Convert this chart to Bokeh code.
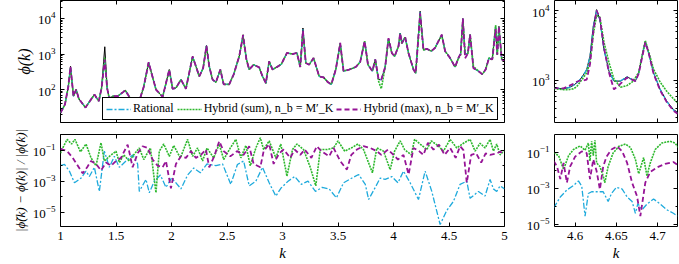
from bokeh.plotting import figure
from bokeh.layouts import column, row
from bokeh.models import FixedTicker, LinearAxis, LogAxis, Legend, LegendItem, Range1d
from bokeh.embed import file_html
from bokeh.resources import INLINE

# ---------------- data: top-left (phi(k) over the full k range) ----------------
k_main = [1.00, 1.04, 1.07, 1.09, 1.117, 1.141, 1.165, 1.225, 1.27, 1.306,
          1.345, 1.37, 1.399, 1.42, 1.44, 1.47, 1.516, 1.584, 1.635, 1.70,
          1.75, 1.794, 1.86, 1.92, 1.98, 2.01, 2.04, 2.085, 2.13, 2.19,
          2.22, 2.25, 2.285, 2.315, 2.34, 2.37, 2.40, 2.44, 2.47, 2.52,
          2.56, 2.61, 2.645, 2.675, 2.70, 2.74, 2.79, 2.82, 2.85, 2.88,
          2.91, 2.95, 2.99, 3.04, 3.09, 3.13, 3.16, 3.184, 3.21, 3.24,
          3.28, 3.33, 3.37, 3.41, 3.44, 3.48, 3.52, 3.55, 3.60, 3.66,
          3.70, 3.74, 3.77, 3.81, 3.836, 3.866, 3.89, 3.925, 3.955, 3.985,
          4.01, 4.045, 4.06, 4.075, 4.105, 4.135, 4.18, 4.20, 4.24, 4.27,
          4.30, 4.34, 4.375, 4.405, 4.435, 4.465, 4.51, 4.555, 4.585, 4.605,
          4.625, 4.645, 4.67, 4.69, 4.72, 4.765, 4.80, 4.83, 4.86, 4.89,
          4.92, 4.935, 4.95, 4.975, 5.00]
phi_exact = [22, 38, 120, 450, 65, 100, 55, 31, 50, 72,
             47, 110, 1600, 110, 55, 65, 65, 95, 52, 38,
             120, 585, 100, 62, 365, 105, 110, 190, 105, 860,
             450, 235, 400, 1730, 450, 190, 160, 365, 140, 140,
             265, 860, 3500, 700, 365, 500, 420, 235, 150, 620,
             365, 430, 520, 1070, 1000, 1070, 430, 5400, 560, 500,
             770, 235, 220, 160, 140, 365, 2050, 330, 365, 430,
             600, 2300, 500, 330, 700, 190, 190, 430, 2800, 1070,
             860, 1650, 3900, 2000, 3000, 1070, 365, 290, 16000, 1300,
             1400, 1200, 1500, 2300, 3500, 1200, 770, 430, 780, 1030,
             10000, 1000, 1030, 3500, 400, 330, 270, 365, 770, 700,
             6000, 950, 6000, 700, 650]
phi_rat = [22, 38, 120, 430, 65, 100, 55, 31, 50, 72,
           47, 110, 650, 110, 55, 65, 65, 95, 52, 38,
           120, 580, 100, 62, 360, 105, 110, 190, 105, 850,
           450, 235, 400, 1700, 450, 190, 160, 365, 140, 140,
           265, 860, 3300, 700, 365, 500, 420, 235, 150, 620,
           365, 430, 520, 1070, 1000, 1070, 430, 5000, 560, 500,
           770, 235, 220, 160, 140, 365, 2000, 330, 365, 430,
           600, 2250, 500, 330, 700, 190, 190, 430, 2700, 1070,
           860, 1650, 3800, 2000, 3000, 1070, 365, 290, 15000, 1300,
           1400, 1200, 1500, 2300, 3400, 1200, 770, 430, 780, 1030,
           9800, 1000, 1030, 3500, 400, 330, 270, 365, 770, 700,
           5800, 950, 5800, 700, 650]
phi_sum = [22, 38, 115, 400, 65, 100, 55, 31, 50, 72,
           47, 110, 800, 110, 55, 65, 65, 95, 52, 38,
           120, 560, 100, 62, 350, 105, 110, 190, 105, 820,
           450, 235, 400, 1650, 450, 190, 160, 365, 140, 140,
           265, 860, 3000, 700, 365, 500, 420, 235, 150, 620,
           365, 430, 520, 1070, 1000, 1070, 430, 4200, 560, 500,
           770, 235, 220, 160, 140, 365, 1900, 330, 365, 430,
           600, 2300, 500, 330, 700, 170, 105, 430, 2600, 1070,
           860, 1650, 3700, 2000, 3000, 1070, 365, 290, 13000, 1300,
           1400, 1200, 1500, 2300, 3300, 1200, 770, 430, 740, 950,
           8500, 1050, 1030, 3600, 450, 330, 270, 365, 770, 700,
           6500, 950, 5600, 700, 650]
phi_max = [22, 38, 120, 440, 65, 100, 55, 31, 50, 72,
           47, 110, 700, 110, 55, 65, 65, 95, 52, 38,
           120, 585, 100, 62, 365, 105, 110, 190, 105, 860,
           450, 235, 400, 1700, 450, 190, 160, 365, 140, 140,
           265, 860, 3400, 700, 365, 500, 420, 235, 150, 620,
           365, 430, 520, 1070, 1000, 1070, 430, 4500, 560, 500,
           770, 235, 220, 160, 140, 365, 2050, 330, 365, 430,
           600, 2300, 500, 330, 700, 190, 190, 430, 2800, 1070,
           860, 1650, 3900, 2000, 3000, 1070, 365, 290, 14000, 1300,
           1400, 1200, 1500, 2300, 3500, 1200, 770, 430, 790, 1000,
           10000, 760, 1030, 3500, 400, 330, 270, 365, 770, 700,
           5000, 950, 6000, 700, 650]

# ---------------- data: top-right (zoom around k = 4.65) ----------------
k_zoom = [4.574, 4.580, 4.586, 4.592, 4.598, 4.602, 4.606, 4.610, 4.614, 4.618,
          4.622, 4.626, 4.630, 4.635, 4.641, 4.647, 4.655, 4.663, 4.669, 4.673,
          4.677, 4.681, 4.685, 4.689, 4.695, 4.703, 4.711, 4.719, 4.725]
zoom_exact = [790, 770, 760, 790, 850, 930, 1030, 1200, 1430, 2220,
              5970, 10300, 7400, 2770, 1360, 980, 980, 1130, 1030, 980,
              1290, 2220, 3640, 2490, 1290, 745, 506, 385, 345]
zoom_rat = [790, 770, 760, 790, 850, 930, 1030, 1200, 1430, 2200,
            5800, 10000, 7300, 2750, 1350, 980, 990, 1120, 1030, 990,
            1280, 2200, 3600, 2480, 1290, 745, 500, 380, 335]
zoom_sum = [770, 750, 740, 740, 760, 820, 950, 1100, 1290, 1800,
            4500, 8500, 8000, 3500, 1800, 1050, 800, 850, 950, 1100,
            1300, 2220, 3700, 2600, 1450, 950, 700, 550, 470]
zoom_max = [790, 770, 770, 830, 900, 960, 1000, 1000, 1030, 1700,
            5000, 10000, 7800, 2900, 1300, 745, 900, 1100, 1030, 980,
            1250, 2100, 3500, 2500, 1250, 720, 490, 370, 330]

# ---------------- data: bottom-left (relative error), (k, error) pairs ----------------
err_rat_pts = [(1.00, 1.0e-2), (1.036, 1.2e-2), (1.08, 4.5e-3), (1.126, 7.9e-4), (1.186, 1.6e-3),
               (1.23, 4.5e-3), (1.26, 2.0e-3), (1.305, 7.9e-3), (1.35, 2.2e-4), (1.395, 8.7e-2),
               (1.44, 7.9e-3), (1.485, 4.0e-2), (1.53, 7.9e-3), (1.59, 2.0e-2), (1.65, 5.0e-2),
               (1.695, 1.3e-2), (1.71, 2.2e-4), (1.77, 1.3e-3), (1.80, 1.8e-4), (1.845, 1.0e-3),
               (1.90, 2.5e-3), (1.95, 4.0e-4), (2.00, 1.6e-3), (2.04, 7.9e-4), (2.085, 3.2e-4),
               (2.145, 2.5e-3), (2.20, 7.1e-3), (2.26, 3.5e-3), (2.32, 1.3e-2), (2.40, 1.0e-2),
               (2.46, 1.3e-2), (2.534, 6.3e-4), (2.594, 1.2e-2), (2.65, 2.0e-2), (2.70, 5.0e-4),
               (2.76, 1.0e-3), (2.82, 7.9e-3), (2.88, 7.9e-4), (2.94, 1.1e-4), (2.985, 3.5e-4),
               (3.05, 1.0e-3), (3.11, 2.0e-3), (3.17, 6.3e-4), (3.23, 1.0e-3), (3.297, 2.2e-4),
               (3.357, 4.0e-4), (3.42, 3.2e-4), (3.486, 8.5e-5), (3.55, 7.9e-4), (3.626, 1.6e-3),
               (3.686, 2.7e-3), (3.746, 6.3e-4), (3.776, 6.6e-5), (3.836, 4.0e-4), (3.88, 1.6e-3),
               (3.925, 1.3e-3), (3.985, 2.0e-3), (4.04, 7.9e-4), (4.09, 4.5e-3), (4.15, 7.9e-4),
               (4.225, 6.6e-5), (4.285, 4.5e-3), (4.345, 2.2e-4), (4.42, 1.6e-6), (4.48, 1.3e-5),
               (4.54, 5.0e-5), (4.60, 6.3e-4), (4.66, 1.0e-3), (4.69, 7.9e-5), (4.765, 2.2e-4),
               (4.825, 1.1e-4), (4.87, 1.3e-3), (4.90, 3.2e-4), (4.93, 2.2e-4), (4.96, 5.0e-4),
               (5.00, 3.2e-4)]
err_sum_pts = [(1.00, 6.3e-2), (1.02, 0.14), (1.06, 0.50), (1.10, 0.25), (1.13, 0.50),
               (1.18, 7.9e-2), (1.23, 0.25), (1.275, 3.2e-2), (1.32, 1.0e-2), (1.365, 0.30),
               (1.395, 2.0e-2), (1.44, 4.0e-2), (1.50, 8.7e-2), (1.53, 1.6e-2), (1.57, 5.0e-2),
               (1.62, 2.0e-2), (1.66, 5.0e-2), (1.71, 0.14), (1.75, 2.5e-2), (1.81, 0.14),
               (1.86, 1.8e-4), (1.89, 8.7e-2), (1.93, 0.25), (1.98, 4.0e-2), (2.02, 0.20),
               (2.08, 3.2e-2), (2.145, 0.50), (2.19, 4.0e-2), (2.235, 0.14), (2.28, 2.0e-2),
               (2.32, 0.14), (2.38, 3.2e-2), (2.43, 0.25), (2.47, 2.5e-2), (2.53, 0.14),
               (2.58, 0.50), (2.625, 3.2e-2), (2.67, 0.20), (2.71, 1.0e-2), (2.76, 0.14),
               (2.80, 0.63), (2.83, 0.11), (2.88, 0.40), (2.94, 3.2e-2), (2.985, 0.25),
               (3.04, 2.1e-3), (3.09, 0.11), (3.13, 0.25), (3.19, 0.11), (3.25, 7.9e-3),
               (3.30, 5.0e-4), (3.34, 0.11), (3.40, 0.11), (3.46, 0.14), (3.50, 0.40),
               (3.56, 8.7e-2), (3.62, 0.14), (3.68, 0.25), (3.73, 0.11), (3.81, 3.5e-3),
               (3.85, 0.14), (3.91, 8.7e-2), (3.97, 5.6e-3), (4.01, 8.7e-2), (4.06, 0.40),
               (4.10, 0.11), (4.16, 5.0e-2), (4.19, 0.50), (4.24, 0.25), (4.30, 0.11),
               (4.34, 0.40), (4.40, 0.20), (4.45, 8.7e-2), (4.51, 0.50), (4.57, 0.14),
               (4.63, 0.28), (4.69, 0.50), (4.735, 8.7e-2), (4.78, 0.28), (4.825, 0.14),
               (4.87, 0.50), (4.90, 8.7e-2), (4.93, 0.25), (4.96, 5.0e-2), (5.00, 0.10)]
err_max_pts = [(1.00, 0.126), (1.02, 0.11), (1.06, 8.7e-2), (1.11, 3.2e-2), (1.156, 1.0e-2),
               (1.20, 3.2e-3), (1.24, 7.9e-3), (1.275, 2.0e-2), (1.32, 1.3e-2), (1.365, 5.0e-3),
               (1.41, 1.6e-2), (1.455, 1.0e-2), (1.50, 2.0e-2), (1.545, 3.2e-2), (1.605, 0.23),
               (1.65, 7.9e-3), (1.695, 6.3e-2), (1.74, 0.18), (1.785, 0.14), (1.83, 2.5e-2),
               (1.875, 1.0e-2), (1.92, 7.9e-3), (1.95, 2.0e-2), (1.995, 3.5e-4), (2.04, 1.3e-2),
               (2.085, 4.0e-2), (2.13, 3.2e-2), (2.175, 8.7e-2), (2.22, 3.2e-2), (2.265, 5.0e-2),
               (2.31, 0.11), (2.34, 7.9e-3), (2.385, 4.0e-2), (2.43, 0.38), (2.47, 8.7e-2),
               (2.53, 4.0e-2), (2.59, 8.7e-2), (2.65, 5.0e-2), (2.70, 0.18), (2.74, 1.3e-2),
               (2.80, 7.9e-3), (2.83, 8.7e-2), (2.88, 0.25), (2.92, 1.3e-2), (2.97, 6.3e-2),
               (3.01, 0.11), (3.07, 3.2e-2), (3.11, 0.11), (3.16, 5.0e-2), (3.20, 0.11),
               (3.26, 3.2e-2), (3.31, 0.18), (3.35, 8.7e-2), (3.42, 4.0e-2), (3.46, 0.14),
               (3.52, 2.0e-2), (3.58, 5.6e-3), (3.62, 5.0e-2), (3.67, 0.11), (3.73, 0.18),
               (3.79, 0.14), (3.85, 8.7e-2), (3.89, 5.0e-2), (3.95, 0.11), (4.00, 5.0e-2),
               (4.04, 2.5e-2), (4.09, 5.0e-2), (4.136, 2.7e-3), (4.18, 0.14), (4.23, 8.7e-2),
               (4.27, 5.0e-2), (4.31, 0.30), (4.36, 0.11), (4.41, 0.23), (4.46, 5.0e-2),
               (4.51, 0.14), (4.56, 3.2e-2), (4.60, 0.18), (4.63, 0.10), (4.66, 7.9e-4),
               (4.70, 5.0e-2), (4.745, 6.3e-2), (4.79, 1.6e-2), (4.83, 6.3e-2), (4.87, 5.0e-2),
               (4.93, 6.3e-2), (4.96, 7.9e-2), (5.00, 6.3e-2)]

# ---------------- data: bottom-right (relative error, zoom) ----------------
zerr_rat_pts = [(4.574, 7.9e-5), (4.582, 3.2e-4), (4.590, 7.9e-4), (4.598, 1.4e-3), (4.604, 2.5e-3),
                (4.608, 1.3e-3), (4.612, 2.8e-5), (4.616, 5.0e-4), (4.620, 6.3e-4), (4.626, 6.3e-4),
                (4.634, 6.3e-4), (4.640, 1.8e-4), (4.644, 5.0e-4), (4.650, 1.1e-3), (4.657, 8.9e-4),
                (4.663, 3.2e-4), (4.669, 1.8e-4), (4.673, 4.0e-5), (4.676, 1.4e-4), (4.681, 6.3e-5),
                (4.687, 1.3e-4), (4.695, 2.5e-4), (4.703, 1.3e-4), (4.711, 6.3e-5), (4.719, 4.0e-5),
                (4.724, 2.8e-5)]
zerr_sum_pts = [(4.574, 9.3e-2), (4.580, 6.3e-2), (4.586, 1.1e-2), (4.592, 6.3e-2), (4.598, 0.14),
                (4.606, 0.22), (4.612, 0.126), (4.616, 0.32), (4.618, 3.2e-2), (4.620, 0.40),
                (4.622, 6.3e-2), (4.624, 0.45), (4.626, 2.5e-2), (4.630, 1.6e-2), (4.634, 4.7e-3),
                (4.636, 2.0e-3), (4.640, 1.6e-2), (4.646, 8.9e-2), (4.653, 0.21), (4.661, 0.28),
                (4.667, 0.18), (4.673, 4.0e-2), (4.677, 6.3e-3), (4.683, 5.0e-2), (4.687, 4.7e-3),
                (4.691, 2.5e-2), (4.697, 0.14), (4.705, 0.32), (4.715, 0.40), (4.721, 0.32),
                (4.725, 0.18)]
zerr_max_pts = [(4.574, 3.2e-2), (4.578, 1.6e-2), (4.582, 3.2e-3), (4.586, 2.5e-2), (4.590, 2.0e-3),
                (4.594, 1.6e-2), (4.600, 5.6e-2), (4.608, 0.11), (4.614, 8.9e-2), (4.618, 3.2e-3),
                (4.622, 4.0e-2), (4.626, 8.9e-3), (4.630, 8.5e-4), (4.634, 1.6e-2), (4.638, 5.6e-2),
                (4.644, 0.14), (4.651, 0.21), (4.657, 0.11), (4.663, 2.5e-2), (4.669, 2.0e-3),
                (4.675, 3.5e-4), (4.679, 2.8e-5), (4.685, 2.0e-3), (4.691, 7.9e-3), (4.699, 1.4e-2),
                (4.709, 2.2e-2), (4.719, 2.8e-2), (4.725, 1.8e-2)]

# ---------------- ticks / labels ----------------
x_ticks_main = [1, 1.5, 2, 2.5, 3, 3.5, 4, 4.5, 5]
x_labels_main = ["1", "1.5", "2", "2.5", "3", "3.5", "4", "4.5", "5"]
x_ticks_zoom = [4.6, 4.65, 4.7]
x_labels_zoom = ["4.6", "4.65", "4.7"]
y_ticks_phi_main = [1e2, 1e3, 1e4]
y_minor_phi_main = [20, 30, 40, 50, 60, 70, 80, 90, 200, 300, 400, 500, 600, 700, 800, 900,
                    2000, 3000, 4000, 5000, 6000, 7000, 8000, 9000, 20000, 30000]
y_ticks_phi_zoom = [1e3, 1e4]
y_minor_phi_zoom = [300, 400, 500, 600, 700, 800, 900, 2000, 3000, 4000, 5000, 6000, 7000, 8000, 9000]
y_ticks_err = [1e-5, 1e-3, 1e-1]
y_minor_err = [1e-6, 1e-4, 1e-2, 1e0]

labels = {"rat": "Rational",
          "sum": "Hybrid (sum), n_b = M′_K",
          "max": "Hybrid (max), n_b = M′_K"}

FONT = "Liberation Serif"
STY = {
    "exact": dict(line_color="black", line_width=1.0),
    "rat": dict(line_color="#1eaadc", line_width=1.3, line_dash="6 2 2 2"),
    "sum": dict(line_color="#2db82d", line_width=1.6, line_dash="2 1"),
    "max": dict(line_color="#961496", line_width=1.8, line_dash="5 3"),
}


def style_axis(ax, show_labels=True):
    ax.axis_line_color = None
    ax.major_tick_in = 4
    ax.major_tick_out = 0
    ax.minor_tick_in = 2
    ax.minor_tick_out = 0
    ax.major_tick_line_color = "black"
    ax.minor_tick_line_color = "black"
    ax.major_label_text_font = FONT
    ax.major_label_text_color = "black"
    ax.axis_label_text_font = FONT
    ax.axis_label_text_color = "black"
    ax.axis_label_text_font_style = "italic"
    ax.axis_label_standoff = 2
    if show_labels:
        ax.major_label_text_font_size = "13px"
        ax.major_label_standoff = 5
    else:
        ax.major_label_text_font_size = "0px"
        ax.major_label_text_color = None
        ax.major_label_standoff = 0


def make_fig(xr, yr, fw, fh, bl, br, bt, bb, xt, xl, yt, ym, show_x):
    p = figure(frame_width=fw, frame_height=fh, x_range=Range1d(*xr), y_range=Range1d(*yr),
               y_axis_type="log", output_backend="svg", toolbar_location=None,
               min_border_left=bl, min_border_right=br, min_border_top=bt, min_border_bottom=bb)
    p.grid.visible = False
    p.outline_line_color = "black"
    p.outline_line_width = 1
    p.outline_line_alpha = 1
    p.background_fill_color = "white"
    p.border_fill_color = "white"
    p.xaxis.ticker = FixedTicker(ticks=xt, minor_ticks=[])
    p.yaxis.ticker = FixedTicker(ticks=yt, minor_ticks=ym)
    p.xaxis.major_label_overrides = dict(zip(xt, xl))
    for ax in p.xaxis:
        style_axis(ax, show_x)
    for ax in p.yaxis:
        style_axis(ax, True)
    top = LinearAxis(ticker=FixedTicker(ticks=xt, minor_ticks=[]))
    style_axis(top, False)
    p.add_layout(top, "above")
    right = LogAxis(ticker=FixedTicker(ticks=yt, minor_ticks=ym))
    style_axis(right, False)
    p.add_layout(right, "right")
    return p


def unzip(pts):
    return [a for a, b in pts], [b for a, b in pts]


# ---- top-left
p1 = make_fig((1, 5), (11.8, 32100), 444, 122, 60, 16, 0, 1,
              x_ticks_main, x_labels_main, y_ticks_phi_main, y_minor_phi_main, False)
p1.left[0].axis_label = "ϕ(k)"
p1.left[0].axis_label_text_font_size = "16px"
p1.line(k_main, phi_exact, **STY["exact"])
r_rat = p1.line(k_main, phi_rat, **STY["rat"])
r_sum = p1.line(k_main, phi_sum, **STY["sum"])
r_max = p1.line(k_main, phi_max, **STY["max"])

legend = Legend(items=[LegendItem(label=labels["rat"], renderers=[r_rat]),
                       LegendItem(label=labels["sum"], renderers=[r_sum]),
                       LegendItem(label=labels["max"], renderers=[r_max])],
                location=(42, 2), orientation="horizontal", padding=3, spacing=3,
                glyph_width=25, glyph_height=14, label_height=14, label_standoff=2, margin=0,
                border_line_color="black", border_line_width=1, border_line_alpha=1,
                background_fill_color="white", background_fill_alpha=1,
                label_text_font=FONT, label_text_font_size="12px", label_text_color="black")
p1.add_layout(legend)

# ---- top-right
p2 = make_fig((4.575, 4.724), (251, 13900), 123, 122, 34, 2, 0, 1,
              x_ticks_zoom, x_labels_zoom, y_ticks_phi_zoom, y_minor_phi_zoom, False)
p2.line(k_zoom, zoom_exact, **STY["exact"])
p2.line(k_zoom, zoom_rat, **STY["rat"])
p2.line(k_zoom, zoom_sum, **STY["sum"])
p2.line(k_zoom, zoom_max, **STY["max"])

# ---- bottom-left
p3 = make_fig((1, 5), (1.2e-6, 1.03), 444, 92, 60, 16, 11, 35,
              x_ticks_main, x_labels_main, y_ticks_err, y_minor_err, True)
p3.left[0].axis_label = "|ϕ̃(k) − ϕ(k)| / |ϕ(k)|"
p3.left[0].axis_label_text_font_size = "13px"
p3.below[0].axis_label = "k"
p3.below[0].axis_label_text_font_size = "15px"
for pts, key in [(err_rat_pts, "rat"), (err_sum_pts, "sum"), (err_max_pts, "max")]:
    kk, ee = unzip(pts)
    p3.line(kk, ee, **STY[key])

# ---- bottom-right
p4 = make_fig((4.575, 4.724), (7.4e-6, 0.95), 123, 92, 34, 2, 11, 35,
              x_ticks_zoom, x_labels_zoom, y_ticks_err, y_minor_err, True)
p4.below[0].axis_label = "k"
p4.below[0].axis_label_text_font_size = "15px"
for pts, key in [(zerr_rat_pts, "rat"), (zerr_sum_pts, "sum"), (zerr_max_pts, "max")]:
    kk, ee = unzip(pts)
    p4.line(kk, ee, **STY[key])

layout = column(row(p1, p2), row(p3, p4))
open("out.html", "w").write(file_html(layout, INLINE))
